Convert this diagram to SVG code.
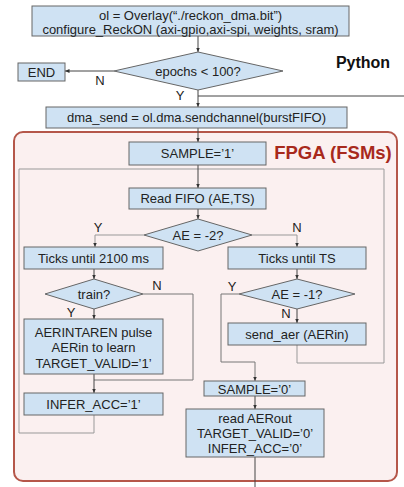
<svg xmlns="http://www.w3.org/2000/svg" width="404" height="487" viewBox="0 0 404 487">
<defs>
<marker id="arr" markerWidth="5" markerHeight="5" refX="4.5" refY="2.5" orient="auto" markerUnits="userSpaceOnUse">
<path d="M0,0.5 L4.5,2.5 L0,4.5 Z" fill="#333"/>
</marker>
<style>
.box{fill:#cfe2f3;stroke:#666;stroke-width:1}
.t{font-family:"Liberation Sans",Arial,sans-serif;font-size:13px;fill:#222;text-anchor:middle}
.lbl{font-family:"Liberation Sans",Arial,sans-serif;font-size:13px;fill:#222;text-anchor:middle}
.c{fill:none;stroke:#444;stroke-width:1}
.cl{fill:none;stroke:#999;stroke-width:1}
.cm{fill:none;stroke:#777;stroke-width:1}
</style>
</defs>
<rect width="404" height="487" fill="#fff"/>
<g id="fpga-region">
<rect x="14" y="132" width="383" height="349" rx="9" fill="#fbf0f0" stroke="#b5574a" stroke-width="2"/>
<text x="333" y="158.5" font-family="Liberation Sans,Arial,sans-serif" font-size="18.5" font-weight="bold" fill="#a8291c" text-anchor="middle">FPGA (FSMs)</text>
</g>
<g id="python-label">
<text x="363" y="68" font-family="Liberation Sans,Arial,sans-serif" font-size="16" font-weight="bold" fill="#111" text-anchor="middle">Python</text>
</g>
<g id="connectors">
<path class="cl" d="M297,345 V363 H384 V169 H19 V433 H94 V415"/>
<path class="c" d="M198,36 V52" marker-end="url(#arr)"/>
<path class="c" d="M114,71 H65" marker-end="url(#arr)"/>
<path class="c" d="M198,90 V107" marker-end="url(#arr)"/>
<path class="c" d="M404,96 H198"/>
<path class="c" d="M198,128 V142" marker-end="url(#arr)"/>
<path class="c" d="M198,165 V188" marker-end="url(#arr)"/>
<path class="c" d="M198,209 V219" marker-end="url(#arr)"/>
<path class="cl" d="M144,235 H95 V247" marker-end="url(#arr)"/>
<path class="cl" d="M252,235 H297 V247" marker-end="url(#arr)"/>
<path class="c" d="M94,269 V279" marker-end="url(#arr)"/>
<path class="c" d="M297,269 V279" marker-end="url(#arr)"/>
<path class="c" d="M94,309 V319" marker-end="url(#arr)"/>
<path class="cm" d="M143,294 H193 V380 H94"/>
<path class="c" d="M94,374 V393" marker-end="url(#arr)"/>
<path class="c" d="M297,309 V323" marker-end="url(#arr)"/>
<path class="cm" d="M239,294 H221 V362 H255 V381" marker-end="url(#arr)"/>
<path class="c" d="M255,396 V409" marker-end="url(#arr)"/>
<path class="c" d="M255,457 V487"/>
<text class="lbl" x="100" y="84.5">N</text>
<text class="lbl" x="180" y="99.5">Y</text>
<text class="lbl" x="98" y="232">Y</text>
<text class="lbl" x="297" y="232">N</text>
<text class="lbl" x="157" y="289.5">N</text>
<text class="lbl" x="71" y="317">Y</text>
<text class="lbl" x="232" y="290.5">Y</text>
<text class="lbl" x="286" y="317.5">N</text>
</g>
<g id="overlay">
<rect class="box" x="32" y="6" width="317" height="30"/>
<text class="t" x="190.5" y="20">ol = Overlay(“./reckon_dma.bit”)</text>
<text class="t" x="190.5" y="33.5">configure_ReckON (axi-gpio,axi-spi, weights, sram)</text>
</g>
<g id="epochs">
<polygon class="box" points="198,52 283,71 198,90 114,71"/>
<text class="t" x="198" y="75.5">epochs &lt; 100?</text>
</g>
<g id="end">
<rect class="box" x="18" y="63" width="47" height="18"/>
<text class="t" x="41.5" y="76.5">END</text>
</g>
<g id="dma-send">
<rect class="box" x="46" y="107" width="301" height="21"/>
<text class="t" x="196.5" y="122">dma_send = ol.dma.sendchannel(burstFIFO)</text>
</g>
<g id="sample1">
<rect class="box" x="129" y="142" width="137" height="23"/>
<text class="t" x="197.5" y="158">SAMPLE=’1’</text>
</g>
<g id="read-fifo">
<rect class="box" x="129" y="188" width="137" height="21"/>
<text class="t" x="197.5" y="203">Read FIFO (AE,TS)</text>
</g>
<g id="ae-minus2">
<polygon class="box" points="198,219 252,235 198,251 144,235"/>
<text class="t" x="198" y="239.5">AE = -2?</text>
</g>
<g id="ticks-2100">
<rect class="box" x="24" y="247" width="139" height="22"/>
<text class="t" x="93.5" y="262.5">Ticks until 2100 ms</text>
</g>
<g id="ticks-ts">
<rect class="box" x="228" y="247" width="138" height="22"/>
<text class="t" x="297" y="262.5">Ticks until TS</text>
</g>
<g id="train">
<polygon class="box" points="94,279 143,294 94,309 45,294"/>
<text class="t" x="94" y="298.5">train?</text>
</g>
<g id="ae-minus1">
<polygon class="box" points="297,279 355,294 297,309 239,294"/>
<text class="t" x="297" y="298.5">AE = -1?</text>
</g>
<g id="aerintaren">
<rect class="box" x="24" y="319" width="139" height="55"/>
<text class="t" x="93.5" y="336.5">AERINTAREN pulse</text>
<text class="t" x="93.5" y="352">AERin to learn</text>
<text class="t" x="93.5" y="367.5">TARGET_VALID=’1’</text>
</g>
<g id="send-aer">
<rect class="box" x="228" y="323" width="138" height="22"/>
<text class="t" x="297" y="338.5">send_aer (AERin)</text>
</g>
<g id="infer-acc1">
<rect class="box" x="24" y="393" width="139" height="22"/>
<text class="t" x="93.5" y="408.5">INFER_ACC=’1’</text>
</g>
<g id="sample0">
<rect class="box" x="204" y="381" width="101" height="15"/>
<text class="t" x="254.5" y="393.5">SAMPLE=’0’</text>
</g>
<g id="read-aerout">
<rect class="box" x="186" y="409" width="138" height="48"/>
<text class="t" x="255" y="422.5">read AERout</text>
<text class="t" x="255" y="437.5">TARGET_VALID=’0’</text>
<text class="t" x="255" y="452.5">INFER_ACC=’0’</text>
</g>
</svg>
